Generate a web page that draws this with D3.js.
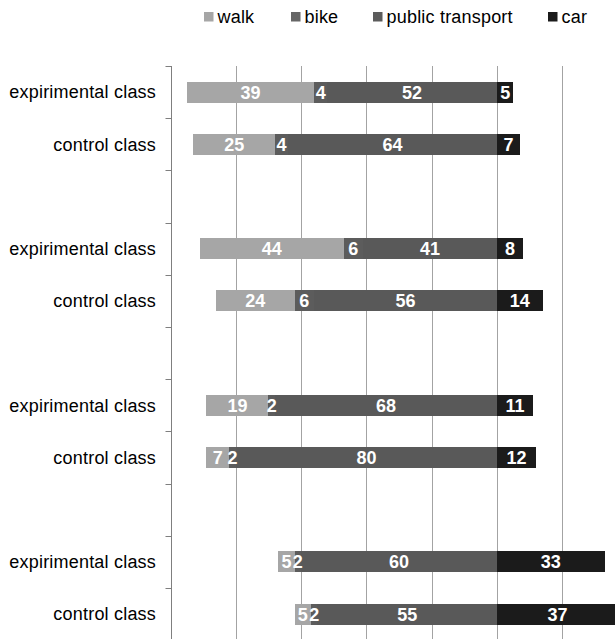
<!DOCTYPE html>
<html>
<head>
<meta charset="utf-8">
<script src="https://cdn.jsdelivr.net/npm/d3@7"></script>
<style>
  html, body { margin: 0; padding: 0; background: #fff; }
  svg { display: block; }
  text { font-family: "Liberation Sans", Arial, sans-serif; }
</style>
</head>
<body>
<svg id="chart" width="615" height="639"></svg>
<script>
// Travel mode shares (%) per class, four groups of two rows each
const rowLabels = [
  "expirimental class", "control class",
  "expirimental class", "control class",
  "expirimental class", "control class",
  "expirimental class", "control class"
];
const walk      = [39, 25, 44, 24, 19, 7, 5, 5];
const bike      = [4, 4, 6, 6, 2, 2, 2, 2];
const transport = [52, 64, 41, 56, 68, 80, 60, 55];
const car       = [5, 7, 8, 14, 11, 12, 33, 37];

const modes = ["walk", "bike", "public transport", "car"];
const modeColors = ["#a6a6a6", "#5c5c5c", "#595959", "#1b1b1b"];
const legendColors = ["#a6a6a6", "#666666", "#5c5c5c", "#1b1b1b"];
const xTicks = [-80, -60, -40, -20, 0, 20, 40];

// Band slots: two rows per group with an empty slot between groups
const slots = ["s0", "s1", "g0", "s2", "s3", "g1", "s4", "s5", "g2", "s6", "s7"];
const rowSlots = ["s0", "s1", "s2", "s3", "s4", "s5", "s6", "s7"];

const svg = d3.select("#chart");

const x = d3.scaleLinear().domain([-100, 40]).range([170.5, 627.6]);
const y = d3.scaleBand().domain(slots).range([66, 640.2]).paddingInner(0.6).paddingOuter(0.3);
const step = y.step();

// Gridlines
svg.append("g")
  .selectAll("line")
  .data(xTicks)
  .join("line")
  .attr("x1", d => Math.round(x(d)) + 0.5)
  .attr("x2", d => Math.round(x(d)) + 0.5)
  .attr("y1", 66)
  .attr("y2", 639)
  .attr("stroke", "#a3a3a3")
  .attr("stroke-width", 1);

// Segment geometry: walk, bike and transport stack leftwards from zero, car to the right
const segments = [];
rowSlots.forEach((slot, i) => {
  const vals = [walk[i], bike[i], transport[i], car[i]];
  const left = -(walk[i] + bike[i] + transport[i]);
  let start = left;
  for (let k = 0; k < 3; k++) {
    segments.push({ slot, mode: k, x0: start, x1: start + vals[k], value: vals[k] });
    start += vals[k];
  }
  segments.push({ slot, mode: 3, x0: 0, x1: car[i], value: car[i] });
});

const barH = 21;
svg.append("g")
  .attr("shape-rendering", "crispEdges")
  .selectAll("rect")
  .data(segments)
  .join("rect")
  .attr("x", d => x(d.x0))
  .attr("width", d => x(d.x1) - x(d.x0))
  .attr("y", d => y(d.slot) + y.bandwidth() / 2 - barH / 2)
  .attr("height", barH)
  .attr("fill", d => modeColors[d.mode]);

// Value labels centred in each segment
svg.append("g")
  .selectAll("text")
  .data(segments)
  .join("text")
  .attr("x", d => (x(d.x0) + x(d.x1)) / 2)
  .attr("y", d => y(d.slot) + y.bandwidth() / 2 + 6.5)
  .attr("text-anchor", "middle")
  .attr("fill", "#fff")
  .attr("font-weight", "bold")
  .attr("font-size", "18px")
  .text(d => d.value);

// Left category axis with ticks at band boundaries
const axisX = Math.round(x(-100)) + 0.5;
const axisG = svg.append("g");
axisG.append("line")
  .attr("x1", axisX).attr("x2", axisX)
  .attr("y1", 66).attr("y2", 639)
  .attr("stroke", "#7f7f7f");
axisG.selectAll("line.tick")
  .data(d3.range(slots.length + 1))
  .join("line")
  .attr("class", "tick")
  .attr("x1", axisX - 6).attr("x2", axisX)
  .attr("y1", i => Math.round(66 + i * step) + 0.5)
  .attr("y2", i => Math.round(66 + i * step) + 0.5)
  .attr("stroke", "#7f7f7f");

axisG.selectAll("text")
  .data(rowSlots)
  .join("text")
  .attr("x", 156)
  .attr("y", (s) => y(s) + y.bandwidth() / 2 + 6.3)
  .attr("text-anchor", "end")
  .attr("font-size", "18px")
  .attr("letter-spacing", "0.2px")
  .attr("fill", "#000")
  .text((s, i) => rowLabels[i]);

// Legend
const legendX = [204, 291, 373, 548];
const legend = svg.append("g");
legend.selectAll("rect")
  .data(modes)
  .join("rect")
  .attr("x", (d, i) => legendX[i])
  .attr("y", 12)
  .attr("width", 9.5)
  .attr("height", 9.5)
  .attr("fill", (d, i) => legendColors[i]);
legend.selectAll("text")
  .data(modes)
  .join("text")
  .attr("x", (d, i) => legendX[i] + 13.5)
  .attr("y", 22.8)
  .attr("font-size", "18px")
  .attr("letter-spacing", "0.2px")
  .attr("fill", "#000")
  .text(d => d);
</script>
</body>
</html>
